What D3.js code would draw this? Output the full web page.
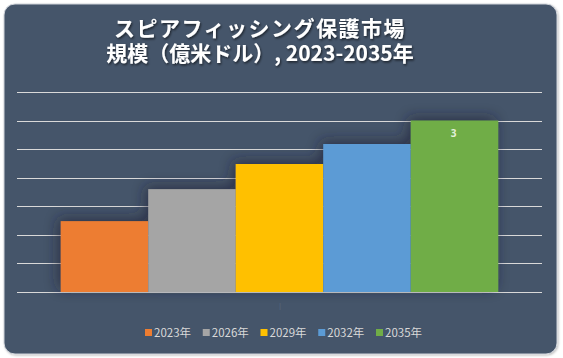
<!DOCTYPE html>
<html><head><meta charset="utf-8">
<script src="https://cdn.jsdelivr.net/npm/d3@7"></script>
<style>html,body{margin:0;padding:0;background:#fff;overflow:hidden}</style>
</head><body><div id="chart"></div>
<script>
const titleLines = ["スピアフィッシング保護市場", "規模（億米ドル）, 2023-2035年"];
const categories = ["2023年", "2026年", "2029年", "2032年", "2035年"];
const values = [1.24, 1.8, 2.24, 2.59, 3.0];
const colors = ["#ED7D31", "#A5A5A5", "#FFC000", "#5B9BD5", "#70AD47"];
const labels = [null, null, null, null, "3"];
const yTicks = [0, 0.5, 1, 1.5, 2, 2.5, 3, 3.5];

const W = 563, H = 358;
const svg = d3.select("#chart").append("svg").attr("width", W).attr("height", H);
const defs = svg.append("defs");
const sh = defs.append("filter").attr("id","cardsh").attr("x","-5%").attr("y","-5%").attr("width","110%").attr("height","110%");
sh.append("feDropShadow").attr("dx",1).attr("dy",1).attr("stdDeviation",1.2).attr("flood-color","#000").attr("flood-opacity",0.25);
const bs = defs.append("filter").attr("id","barsh").attr("x","-30%").attr("y","-30%").attr("width","160%").attr("height","160%");
bs.append("feDropShadow").attr("dx",-3).attr("dy",-3).attr("stdDeviation",7).attr("flood-color","#1a2330").attr("flood-opacity",0.6);
const ts = defs.append("filter").attr("id","txtsh").attr("x","-5%").attr("y","-20%").attr("width","110%").attr("height","140%");
ts.append("feDropShadow").attr("dx",1).attr("dy",1.5).attr("stdDeviation",1).attr("flood-color","#000").attr("flood-opacity",0.6);

svg.append("rect").attr("x",4).attr("y",4).attr("width",553).attr("height",350).attr("rx",11)
  .attr("fill","#44546A").attr("stroke","#d0d4da").attr("stroke-width",1).attr("filter","url(#cardsh)");

const plot = {left:17, right:542, top:92, bottom:292};
const y = d3.scaleLinear().domain([0, 3.5]).range([plot.bottom, plot.top]);
const x = d3.scaleBand().domain(categories).range([plot.left, plot.right]).paddingInner(0).paddingOuter(0.5);

// gridlines
svg.append("g").selectAll("line").data(yTicks).join("line")
  .attr("x1", plot.left).attr("x2", plot.right)
  .attr("y1", d => Math.round(y(d))+0.5).attr("y2", d => Math.round(y(d))+0.5)
  .attr("stroke", "#D9D9D9").attr("stroke-width", 1);

// bars
const bars = svg.append("g").attr("filter","url(#barsh)");
bars.selectAll("rect").data(categories).join("rect")
  .attr("x", d => x(d)).attr("width", x.bandwidth())
  .attr("y", (d,i) => y(values[i])).attr("height", (d,i) => y(0) - y(values[i]))
  .attr("fill", (d,i) => colors[i]);

// data labels
svg.append("g").selectAll("text").data(categories.filter((d,i)=>labels[i]!==null)).join("text")
  .attr("x", d => x(d) + x.bandwidth()/2 - 1)
  .attr("y", d => y(values[categories.indexOf(d)]) + 16)
  .attr("text-anchor","middle").attr("font-family","'Open Sans', 'DejaVu Sans', sans-serif")
  .attr("font-weight","bold").attr("font-size",10).attr("fill","#E2F0D9")
  .text(d => labels[categories.indexOf(d)]);

// faint axis category tick
svg.append("text").attr("x", 280).attr("y", 308).attr("text-anchor","middle")
  .attr("font-size",8).attr("fill","#56657a").attr("font-family","sans-serif").text("|");

// title
const title = svg.append("g").attr("filter","url(#txtsh)");
title.selectAll("text").data(titleLines).join("text")
  .attr("x", 260).attr("y", (d,i) => 36 + i*24.5)
  .attr("text-anchor","middle")
  .attr("font-family","'Noto Sans CJK JP', 'Noto Sans', sans-serif")
  .attr("font-weight","bold").attr("font-size",21)
  .attr("letter-spacing",(d,i)=> i===0 ? 1.5 : 0)
  .attr("fill","#FFFFFF")
  .text(d => d);

// legend
const lg = svg.append("g");
const lgX = d3.scalePoint().domain(categories).range([145, 376]);
const item = lg.selectAll("g").data(categories).join("g")
  .attr("transform", d => `translate(${lgX(d)},333)`);
item.append("rect").attr("x",0).attr("y",-4).attr("width",7).attr("height",7)
  .attr("fill",(d,i)=>colors[i]);
item.append("text").attr("x",9).attr("y",4)
  .attr("font-family","'Noto Sans CJK JP', sans-serif").attr("font-size",11.5).attr("fill","#D9D9D9")
  .text(d=>d);
</script></body></html>
